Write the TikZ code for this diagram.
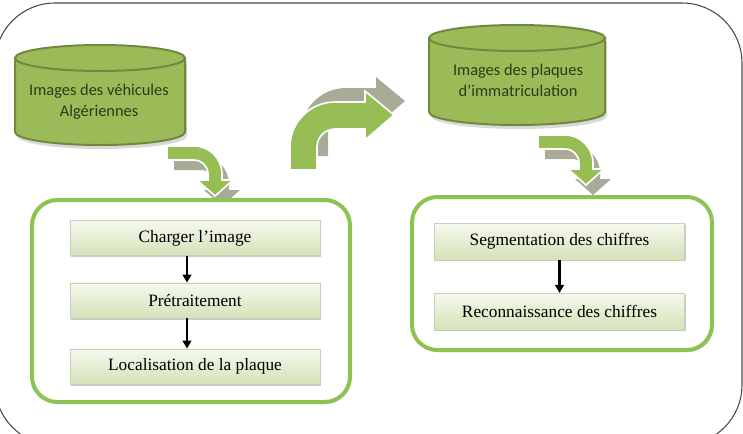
\documentclass[tikz,border=0pt]{standalone}
\usepackage{fontspec}
\setmainfont{Liberation Serif}
\newfontfamily\calibri{Carlito}
\usetikzlibrary{arrows.meta, shadows, positioning}

\definecolor{dbgreen}{HTML}{9BBB59}
\definecolor{dbedge}{HTML}{71893F}
\definecolor{dbtextcol}{HTML}{2F3A18}
\definecolor{bendgreen}{HTML}{96BE55}
\definecolor{bendgray}{HTML}{A8AB97}
\definecolor{panelgreen}{HTML}{8CC453}
\definecolor{boxtop}{HTML}{F6F9EE}
\definecolor{boxbottom}{HTML}{D4E2B8}
\definecolor{boxedge}{HTML}{C9CDBD}
\definecolor{framegray}{HTML}{4A4A4A}

\tikzset{
  db/.style={fill=dbgreen, draw=dbedge, line width=1.5pt},
  dbshade/.style={fill=gray, opacity=.3},
  dbtext/.style={align=center, text=dbtextcol, font=\calibri\fontsize{12.3}{15.75}\selectfont},
  panel/.style={draw=panelgreen, line width=3pt, rounded corners=19pt, fill=white,
    drop shadow={shadow xshift=1pt, shadow yshift=-1.5pt, opacity=.35}},
  stage/.style={draw=boxedge, line width=.4pt, top color=boxtop, bottom color=boxbottom,
    minimum width=187.5pt, minimum height=26.5pt, inner sep=0pt,
    font=\fontsize{13}{15}\selectfont,
    drop shadow={shadow xshift=.8pt, shadow yshift=-1.2pt, opacity=.4}},
  flow/.style={line width=1.9pt, -{Triangle[width=6.5pt,length=6pt]}},
  turndown/.pic={
    \fill[bendgray, shift={(7,10)}] (0,0) -- (27,0) arc[start angle=270, end angle=360, radius=28]
      -- (55,34) -- (66,34) -- (48,50) -- (30,34) -- (41,34) -- (41,28)
      arc[start angle=0, end angle=-90, radius=14] -- (0,14) -- cycle;
    \filldraw[fill=bendgreen, draw=white, line width=1.2pt] (0,0) -- (27,0) arc[start angle=270, end angle=360, radius=28]
      -- (55,34) -- (66,34) -- (48,50) -- (30,34) -- (41,34) -- (41,28)
      arc[start angle=0, end angle=-90, radius=14] -- (0,14) -- cycle;
  },
  turnright/.pic={
    \fill[bendgray, shift={(11,-14)}] (0,0) -- (0,-23) arc[start angle=180, end angle=270, radius=45]
      -- (75,-68) -- (75,-79) -- (104,-55) -- (75,-30) -- (75,-41) -- (45,-41)
      arc[start angle=270, end angle=180, radius=18] -- (27,0) -- cycle;
    \filldraw[fill=bendgreen, draw=white, line width=1.2pt] (0,0) -- (0,-23) arc[start angle=180, end angle=270, radius=45]
      -- (75,-68) -- (75,-79) -- (104,-55) -- (75,-30) -- (75,-41) -- (45,-41)
      arc[start angle=270, end angle=180, radius=18] -- (27,0) -- cycle;
  }
}

\begin{document}
\begin{tikzpicture}[x=0.75pt, y=-0.75pt]
\useasboundingbox (0,0) rectangle (743,433);
\begin{scope}
\clip (0,0) rectangle (743,433);
\draw[framegray, line width=.8pt, rounded corners=45pt] (-5,3) rectangle (742,445);
\end{scope}

% bases d'images
\fill[dbshade] (17,62) -- (17,136) arc[start angle=180, end angle=0, x radius=85, y radius=13] -- (187,62) -- cycle;
\filldraw[db] (15,58) -- (15,132) arc[start angle=180, end angle=0, x radius=85, y radius=13] -- (185,58) -- cycle;
\filldraw[db] (100,58) ellipse[x radius=85, y radius=13];
\node[dbtext] (vehdb) at (99,102) {Images des véhicules\\Algériennes};

\fill[dbshade] (431,42) -- (431,116) arc[start angle=180, end angle=0, x radius=88, y radius=13] -- (607,42) -- cycle;
\filldraw[db] (429,38) -- (429,112) arc[start angle=180, end angle=0, x radius=88, y radius=13] -- (605,38) -- cycle;
\filldraw[db] (517,38) ellipse[x radius=88, y radius=13];
\node[dbtext] (platedb) at (518,80) {Images des plaques\\d’immatriculation};

% fleches courbes
\pic at (167,146) {turndown};
\pic at (290,170) {turnright};
\pic at (538,135) {turndown};

% etapes
\node[panel, minimum width=238.5pt, minimum height=151.5pt] (leftpanel) at (191,301) {};
\node[stage] (load) at (195,238) {Charger l'image};
\node[stage] (prep) at (195,300.5) {Prétraitement};
\node[stage] (locate) at (195,366.5) {Localisation de la plaque};
\draw[flow] ([xshift=-6pt]load.south) -- ([xshift=-6pt]prep.north);
\draw[flow] ([xshift=-6pt]prep.south) -- ([xshift=-6pt]locate.north);

\node[panel, minimum width=225pt, minimum height=114.75pt] (rightpanel) at (562,273.5) {};
\node[stage, minimum height=27.5pt] (seg) at (559.5,241.5) {Segmentation des chiffres};
\node[stage, minimum height=27.5pt] (reco) at (559.5,311.5) {Reconnaissance des chiffres};
\draw[flow] (seg) -- (reco);
\end{tikzpicture}
\end{document}
